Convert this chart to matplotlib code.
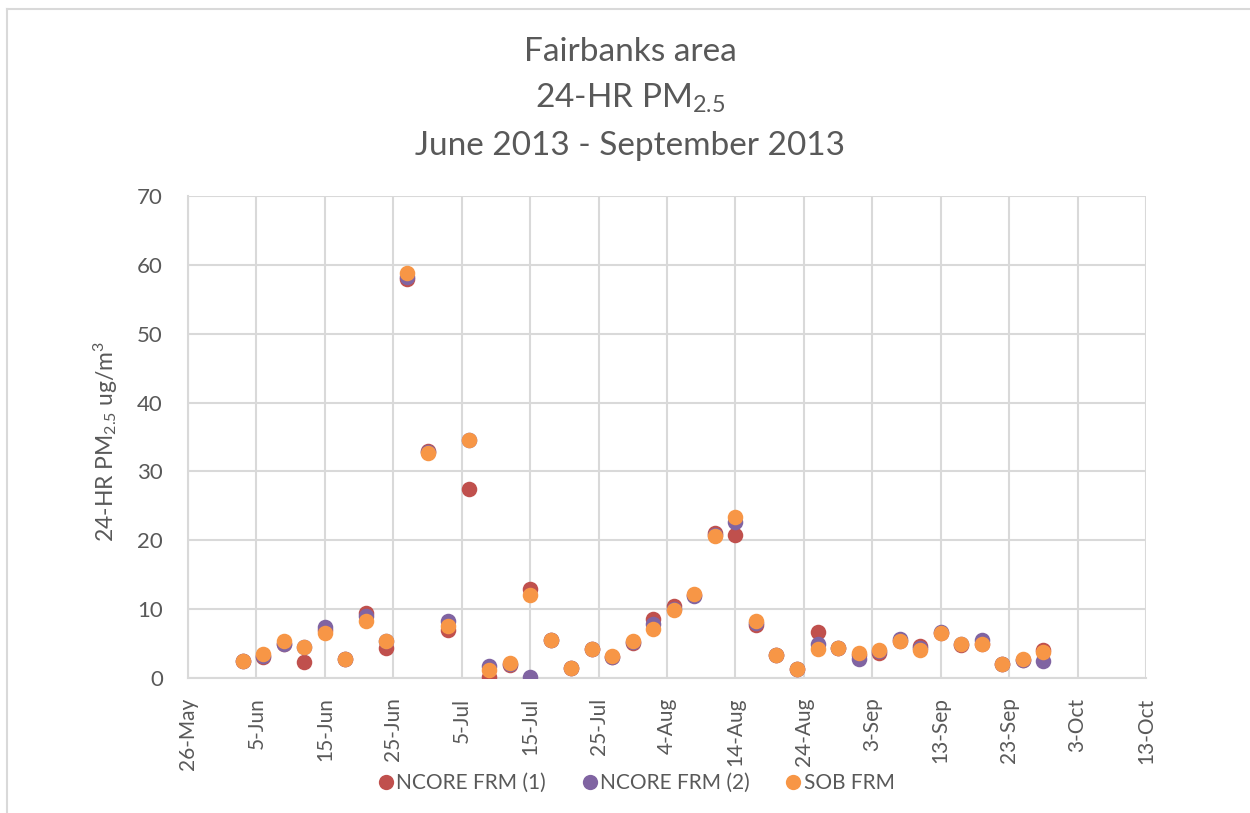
import matplotlib
matplotlib.use('Agg')
import matplotlib.pyplot as plt
from matplotlib.lines import Line2D
import numpy as np
import pandas as pd

# sample days (1-in-3 day schedule)
dates = ['2013-06-03', '2013-06-06', '2013-06-09', '2013-06-12', '2013-06-15',
         '2013-06-18', '2013-06-21', '2013-06-24', '2013-06-27', '2013-06-30',
         '2013-07-03', '2013-07-06', '2013-07-09', '2013-07-12', '2013-07-15',
         '2013-07-18', '2013-07-21', '2013-07-24', '2013-07-27', '2013-07-30',
         '2013-08-02', '2013-08-05', '2013-08-08', '2013-08-11', '2013-08-14',
         '2013-08-17', '2013-08-20', '2013-08-23', '2013-08-26', '2013-08-29',
         '2013-09-01', '2013-09-04', '2013-09-07', '2013-09-10', '2013-09-13',
         '2013-09-16', '2013-09-19', '2013-09-22', '2013-09-25', '2013-09-28']

ncore1 = [2.4, 3.1, 5.0, 2.3, 7.0, 2.7, 9.5, 4.3, 58.0, 33.0,
          7.0, 27.4, 0.1, 1.9, 12.9, 5.5, 1.5, 4.2, 3.0, 5.1,
          8.6, 10.4, 12.1, 21.0, 20.7, 7.7, 3.4, 1.3, 6.7, 4.3,
          3.3, 3.6, 5.4, 4.7, 6.5, 4.8, 5.0, 2.0, 2.6, 4.0]
ncore2 = [2.4, 3.2, 4.9, 4.5, 7.4, 2.7, 9.0, 5.3, 58.3, 32.8,
          8.2, 34.5, 1.7, 2.0, 0.1, 5.5, 1.5, 4.2, 3.1, 5.2,
          7.8, 10.0, 11.9, 20.8, 22.6, 8.0, 3.4, 1.3, 5.0, 4.3,
          2.8, 3.9, 5.6, 4.3, 6.7, 5.0, 5.5, 2.0, 2.6, 2.4]
sob = [2.5, 3.5, 5.4, 4.5, 6.6, 2.7, 8.3, 5.4, 58.8, 32.7,
       7.5, 34.5, 1.1, 2.1, 12.0, 5.5, 1.5, 4.2, 3.2, 5.4,
       7.1, 9.8, 12.2, 20.6, 23.4, 8.2, 3.4, 1.3, 4.2, 4.3,
       3.6, 4.0, 5.3, 4.1, 6.5, 5.0, 4.9, 2.0, 2.7, 3.7]

series_names = ['NCORE FRM (1)', 'NCORE FRM (2)', 'SOB FRM']
series_colors = ['#C0504D', '#8064A2', '#F79646']

x_start, x_end = '2013-05-26', '2013-10-13'

plt.rcParams['font.family'] = ['Lato', 'DejaVu Sans']
plt.rcParams['mathtext.fontset'] = 'custom'
plt.rcParams['mathtext.rm'] = 'Lato'
plt.rcParams['mathtext.it'] = 'Lato'
txt = '#595959'
grid_c = '#D9D9D9'

fig = plt.figure(figsize=(12.5, 8.13), dpi=100)
ax = fig.add_axes([0.1504, 0.1661, 0.7664, 0.5929])

x = pd.to_datetime(dates)
for vals, name, col in zip([ncore1, ncore2, sob], series_names, series_colors):
    ax.scatter(x, vals, s=125, color=col, label=name, zorder=3, linewidths=0)

ax.set_xlim(pd.Timestamp(x_start), pd.Timestamp(x_end))
ax.set_ylim(0, 70)
ax.set_yticks(np.arange(0, 71, 10))
ticks = pd.date_range(x_start, x_end, freq='10D')
ax.set_xticks(ticks)
ax.set_xticklabels([f'{d.day}-{d.strftime("%b")}' for d in ticks], rotation=90)

ax.grid(True, color=grid_c, linewidth=1.5)
ax.set_axisbelow(True)
for s in ['top', 'right']:
    ax.spines[s].set_visible(False)
for s in ['left', 'bottom']:
    ax.spines[s].set_color(grid_c)
    ax.spines[s].set_linewidth(1.5)
ax.tick_params(axis='both', length=0, colors=txt)
ax.tick_params(axis='y', pad=18, labelsize=16)
ax.tick_params(axis='x', pad=14, labelsize=15)

ax.set_ylabel(r'24-HR PM$_{\mathregular{2.5}}$ ug/m$^{\mathregular{3}}$', fontsize=16.5, color=txt)
ax.yaxis.set_label_coords(-0.071, 0.49)

fig.text(0.504, 0.936, 'Fairbanks area', ha='center', va='center', fontsize=24, color=txt)
fig.text(0.504, 0.879, r'24-HR PM$_{\mathregular{2.5}}$', ha='center', va='center', fontsize=24, color=txt)
fig.text(0.504, 0.821, 'June 2013 - September 2013', ha='center', va='center', fontsize=24, color=txt)

handles = [Line2D([], [], marker='o', linestyle='', markersize=11, color=c, markeredgewidth=0)
           for c in series_colors]
fig.legend(handles, series_names, loc='center', bbox_to_anchor=(0.508, 0.037), ncol=3, frameon=False,
           fontsize=15, labelcolor=txt, handletextpad=0.0, columnspacing=1.6, handlelength=1.0)

# chart area border
fig.add_artist(Line2D([0.0056, 1.0], [0.989, 0.989], color=grid_c, linewidth=1.5, transform=fig.transFigure))
fig.add_artist(Line2D([0.0056, 0.0056], [0.0, 0.989], color=grid_c, linewidth=1.5, transform=fig.transFigure))

fig.savefig('out.png', dpi=100)
